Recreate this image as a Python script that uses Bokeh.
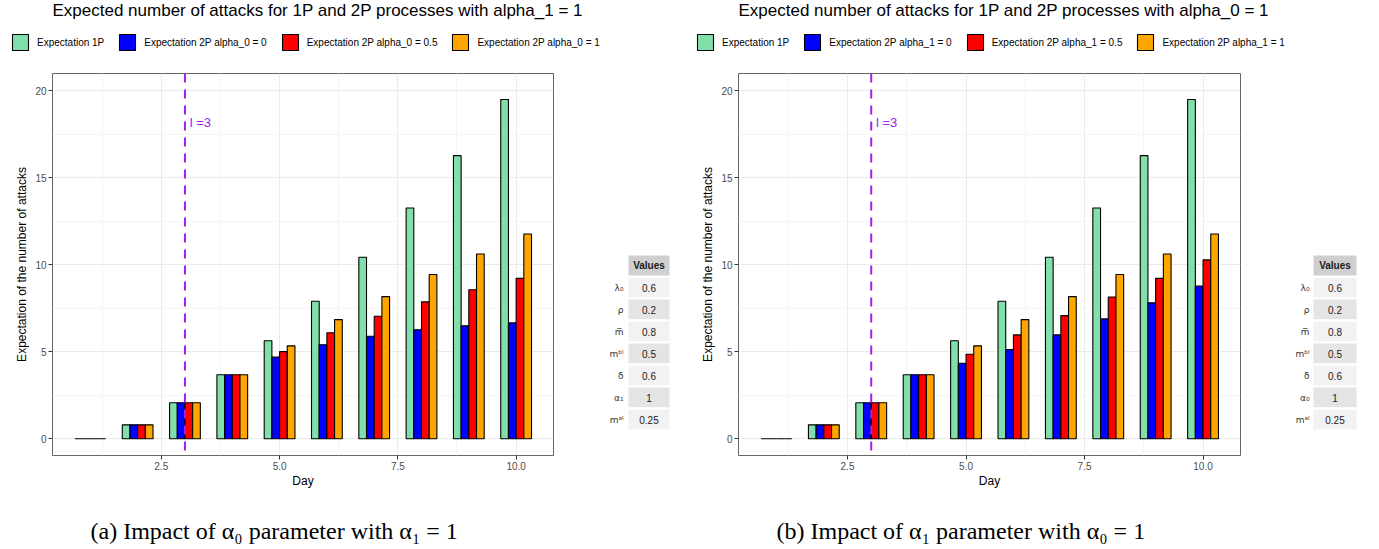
from bokeh.plotting import figure
from bokeh.models import (Range1d, FixedTicker, Legend, LegendItem, Span,
                          ColumnDataSource)
from bokeh.layouts import row, column
from bokeh.transform import dodge
from bokeh.embed import file_html
from bokeh.resources import INLINE
from bokeh.core.properties import value

# ---------------- data ----------------
days = [1, 2, 3, 4, 5, 6, 7, 8, 9, 10]
exp_1p = [0.0, 0.80, 2.07, 3.68, 5.63, 7.90, 10.43, 13.26, 16.27, 19.50]

# panel (a): alpha_1 = 1, varying alpha_0
a_2p_alpha0_0 = [0.0, 0.80, 2.07, 3.68, 4.69, 5.40, 5.89, 6.26, 6.49, 6.66]
a_2p_alpha0_05 = [0.0, 0.80, 2.07, 3.68, 5.01, 6.09, 7.04, 7.87, 8.56, 9.22]
a_2p_alpha0_1 = [0.0, 0.80, 2.07, 3.68, 5.34, 6.85, 8.17, 9.44, 10.62, 11.77]

# panel (b): alpha_0 = 1, varying alpha_1
b_2p_alpha1_0 = [0.0, 0.80, 2.07, 3.68, 4.34, 5.13, 5.97, 6.89, 7.81, 8.77]
b_2p_alpha1_05 = [0.0, 0.80, 2.07, 3.68, 4.86, 5.97, 7.08, 8.15, 9.22, 10.28]
b_2p_alpha1_1 = [0.0, 0.80, 2.07, 3.68, 5.34, 6.85, 8.17, 9.44, 10.62, 11.77]

a_labels = ["Expectation 1P", "Expectation 2P alpha_0 = 0",
            "Expectation 2P alpha_0 = 0.5", "Expectation 2P alpha_0 = 1"]
b_labels = ["Expectation 1P", "Expectation 2P alpha_1 = 0",
            "Expectation 2P alpha_1 = 0.5", "Expectation 2P alpha_1 = 1"]
series_colors = ["#80DFAA", "#0000FF", "#FF0000", "#FFA500"]

x_ticks = [2.5, 5.0, 7.5, 10.0]
x_minor = [1.25, 3.75, 6.25, 8.75]
y_ticks = [0, 5, 10, 15, 20]
y_minor = [2.5, 7.5, 12.5, 17.5]

threshold_day = 3
threshold_label = "l =3"

a_param_labels = ["λ₀", "ρ", "m̅", "mᵇˡ", "δ", "α₁", "mᵃˡ"]
b_param_labels = ["λ₀", "ρ", "m̅", "mᵇˡ", "δ", "α₀", "mᵃˡ"]
param_values = ["0.6", "0.2", "0.8", "0.5", "0.6", "1", "0.25"]

a_title = "Expected number of attacks for 1P and 2P processes with alpha_1 = 1"
b_title = "Expected number of attacks for 1P and 2P processes with alpha_0 = 1"
a_caption = "(a) Impact of α₀ parameter with α₁ = 1"
b_caption = "(b) Impact of α₁ parameter with α₀ = 1"

SANS = "Liberation Sans"
HDR_H = 60
PAN_H = 440
CAP_H = 49
TOP = 13
BOTTOM = 45
BAR_W = 0.1625
OFFS = [-1.5 * BAR_W, -0.5 * BAR_W, 0.5 * BAR_W, 1.5 * BAR_W]
NAN = float("nan")


def blank(width, height):
    f = figure(width=width, height=height, x_range=Range1d(0, width),
               y_range=Range1d(height, 0), output_backend="svg",
               toolbar_location=None, min_border=0,
               x_axis_location=None, y_axis_location=None)
    f.grid.visible = False
    f.outline_line_color = None
    return f


def header(width, title, title_x, labels, legend_x):
    h = blank(width, HDR_H)
    h.text(x=[title_x], y=[10], text=[title], text_font=value(SANS),
           text_font_size="17px", text_baseline="middle", text_align="left",
           text_color="black")
    # legend-only renderers (no visible bars in the header)
    rends = [h.vbar(x=[NAN], top=[NAN], width=1, fill_color=c, line_color="black",
                    line_width=1.1) for c in series_colors]
    leg = Legend(items=[LegendItem(label=labels[k], renderers=[rends[k]]) for k in range(4)],
                 orientation="horizontal", location=(legend_x, 8),
                 glyph_width=20, glyph_height=20, label_standoff=7, spacing=13,
                 padding=0, margin=0, border_line_color=None,
                 background_fill_alpha=0, label_text_font=SANS,
                 label_text_color="black",
                 label_text_font_size="10px", label_height=20)
    h.add_layout(leg)
    return h


def caption_fig(width, text, x):
    c = blank(width, CAP_H)
    c.text(x=[x], y=[30], text=[text], text_font=value("Liberation Serif"),
           text_font_size="24px", text_baseline="middle", text_align="left",
           text_color="black")
    return c


def panel(series, width, bl, br):
    p = figure(width=width, height=PAN_H, x_range=Range1d(0.2, 10.79),
               y_range=Range1d(-0.96, 20.99), output_backend="svg",
               toolbar_location=None, min_border_left=bl, min_border_right=br,
               min_border_top=TOP, min_border_bottom=BOTTOM)
    src = ColumnDataSource(dict(day=days, s0=series[0], s1=series[1],
                                s2=series[2], s3=series[3]))
    for k in range(4):
        p.vbar(x=dodge("day", OFFS[k], range=p.x_range), top="s%d" % k,
               bottom=0, width=BAR_W, source=src,
               fill_color=series_colors[k], line_color="black", line_width=1.1)

    p.add_layout(Span(location=threshold_day, dimension="height",
                      line_color="#A020F0", line_dash="9 7", line_width=2))
    p.text(x=[threshold_day + 0.1], y=[18.2], text=[threshold_label],
           text_color="#A020F0", text_font=value(SANS), text_font_size="13px",
           text_baseline="middle", text_align="left")

    xt = FixedTicker(ticks=x_ticks, minor_ticks=x_minor)
    yt = FixedTicker(ticks=y_ticks, minor_ticks=y_minor)
    p.xaxis.ticker = xt
    p.yaxis.ticker = yt
    p.xaxis.major_label_overrides = {t: "%.1f" % t for t in x_ticks}
    p.xgrid.ticker = xt
    p.ygrid.ticker = yt
    for g in (p.xgrid, p.ygrid):
        g.grid_line_color = "#EBEBEB"
        g.grid_line_width = 1
        g.minor_grid_line_color = "#F4F4F4"
        g.minor_grid_line_width = 1
    p.xaxis.axis_label = "Day"
    p.yaxis.axis_label = "Expectation of the number of attacks"
    for ax in (p.xaxis, p.yaxis):
        ax.axis_line_color = None
        ax.major_tick_line_color = "#333333"
        ax.major_tick_out = 4
        ax.major_tick_in = 0
        ax.minor_tick_line_color = None
        ax.major_label_text_color = "#4D4D4D"
        ax.major_label_text_font = SANS
        ax.major_label_text_font_size = "10px"
        ax.major_label_standoff = 2
        ax.axis_label_text_font = SANS
        ax.axis_label_text_font_size = "12px"
        ax.axis_label_text_font_style = "normal"
        ax.axis_label_text_color = "black"
    p.xaxis.axis_label_standoff = 1
    p.yaxis.axis_label_standoff = 3
    p.outline_line_color = "#666666"
    p.outline_line_width = 1
    return p


def table(labels, vals, width, cell_cx, cell_w, label_x):
    # rows are 22 px apart; header row is -1
    t = figure(width=width, height=PAN_H, x_range=Range1d(0, width),
               y_range=Range1d(7.636, -9.727), output_backend="svg",
               toolbar_location=None, min_border_left=0, min_border_right=0,
               min_border_top=TOP, min_border_bottom=BOTTOM,
               x_axis_location=None, y_axis_location=None)
    t.grid.visible = False
    t.outline_line_color = None
    rows = list(range(len(labels)))
    fills = ["#F2F2F2" if i % 2 == 0 else "#E4E4E4" for i in rows]
    t.rect(x=[cell_cx] * len(rows), y=rows, width=cell_w, height=1,
           fill_color=fills, line_color="white", line_width=2)
    t.rect(x=[cell_cx], y=[-1], width=cell_w, height=1, fill_color="#CFCFCF",
           line_color="white", line_width=2)
    t.text(x=[cell_cx], y=[-1], text=["Values"], text_font=value(SANS),
           text_font_size="10px", text_font_style="bold", text_align="center",
           text_baseline="middle", text_color="#1A1A1A")
    t.text(x=[cell_cx] * len(rows), y=rows, text=vals, text_font=value(SANS),
           text_font_size="10px", text_align="center", text_baseline="middle",
           text_color="#1A1A1A")
    t.text(x=[label_x] * len(rows), y=rows, text=labels, text_font=value("DejaVu Sans"),
           text_font_size="9px", text_align="right", text_baseline="middle",
           text_color="#333333")
    return t


hdr_a = header(680, a_title, 52, a_labels, 10)
hdr_b = header(699, b_title, 58, b_labels, 15)

pa = panel([exp_1p, a_2p_alpha0_0, a_2p_alpha0_05, a_2p_alpha0_1], 600, 52, 47)
ta = table(a_param_labels, param_values, 80, 48.5, 43, 23)
pb = panel([exp_1p, b_2p_alpha1_0, b_2p_alpha1_05, b_2p_alpha1_1], 600, 58, 40)
tb = table(b_param_labels, param_values, 99, 54.5, 45, 29)

cap_a = caption_fig(680, a_caption, 90)
cap_b = caption_fig(699, b_caption, 96)

layout = column(row(hdr_a, hdr_b, spacing=0),
                row(pa, ta, pb, tb, spacing=0),
                row(cap_a, cap_b, spacing=0), spacing=0)
open("out.html", "w").write(file_html(layout, INLINE))
